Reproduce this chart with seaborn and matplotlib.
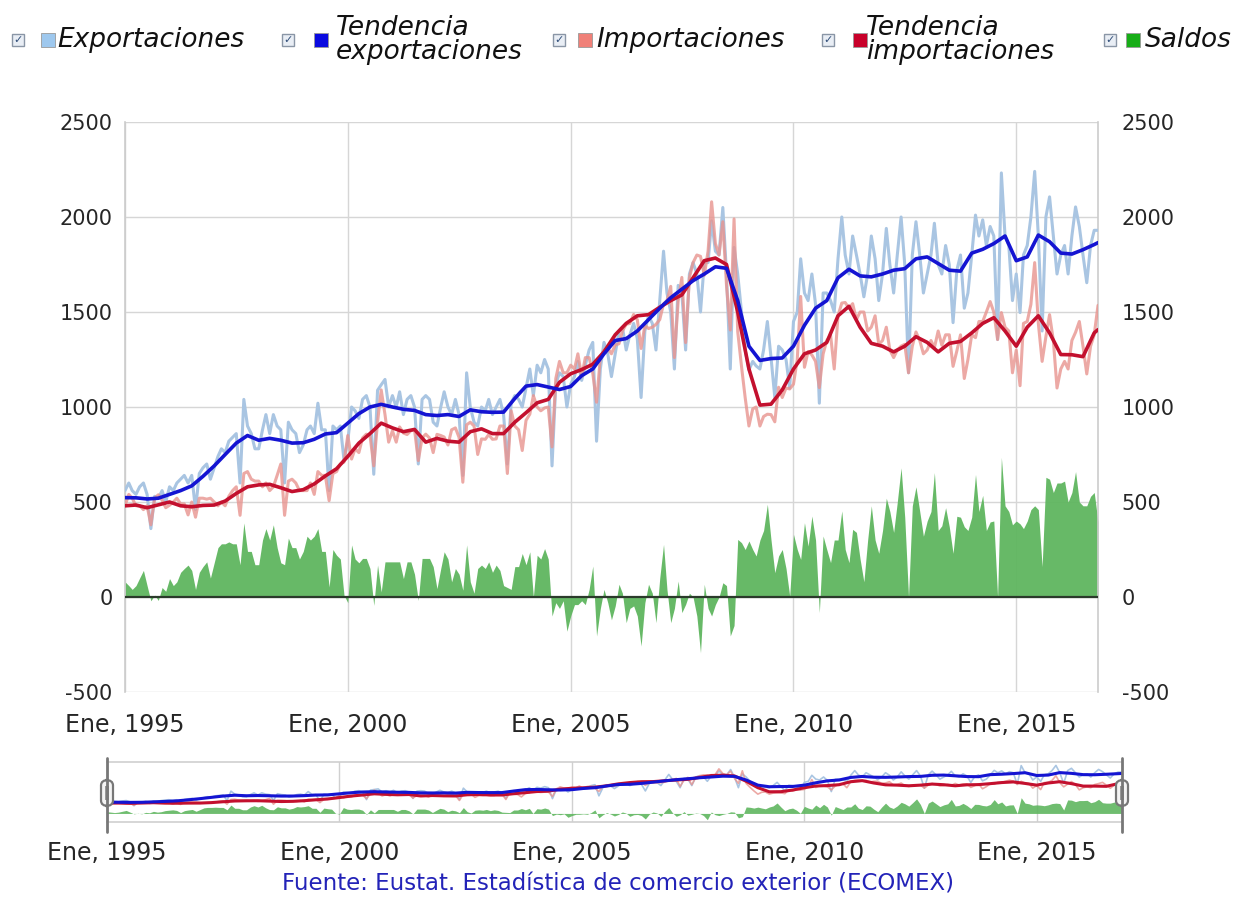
import matplotlib
matplotlib.use("Agg")

import matplotlib.pyplot as plt
from matplotlib.patches import Rectangle, FancyBboxPatch
from matplotlib.lines import Line2D
import pandas as pd
import seaborn as sns

# monthly values, Jan 1995 - Nov 2016 (one row per year)
exportaciones = [
    560, 600, 560, 540, 580, 600, 540, 360, 530, 520, 560, 500,
    580, 560, 600, 620, 640, 600, 640, 460, 650, 680, 700, 620,
    680, 740, 780, 760, 820, 840, 860, 600, 1040, 900, 860, 780,
    780, 880, 960, 860, 960, 900, 880, 600, 920, 880, 860, 760,
    800, 880, 900, 860, 1020, 880, 880, 560, 900, 880, 900, 720,
    820, 1000, 980, 940, 1040, 1060, 1000, 646, 1088, 1117, 1145, 1000,
    1060, 1000, 1080, 960, 1040, 1060, 1000, 700, 1040, 1060, 1040, 920,
    900, 1000, 1080, 1000, 960, 1040, 960, 640, 1180, 1000, 920, 900,
    1000, 980, 1040, 960, 1000, 1040, 960, 700, 1020, 1060, 1040, 1000,
    1100, 1200, 1060, 1220, 1180, 1250, 1200, 690, 1120, 1180, 1160, 1000,
    1120, 1160, 1240, 1140, 1220, 1300, 1340, 820, 1200, 1340, 1280, 1160,
    1280, 1400, 1420, 1300, 1380, 1440, 1360, 1050, 1400, 1480, 1440, 1300,
    1560, 1820, 1600, 1500, 1200, 1640, 1600, 1300, 1700, 1760, 1700, 1500,
    1760, 1760, 1980, 1820, 1800, 2050, 1700, 1200, 1840, 1700, 1500, 1300,
    1195, 1240, 1216, 1200, 1300, 1450, 1260, 1050, 1320, 1300, 1250, 1100,
    1450, 1500, 1780, 1600, 1560, 1700, 1540, 1020, 1600, 1600, 1560, 1500,
    1780, 2000, 1800, 1700, 1900, 1800, 1700, 1580, 1700, 1900, 1780, 1560,
    1700, 1940, 1750, 1600, 1800, 2000, 1750, 1180, 1800, 1975, 1800, 1600,
    1700, 1800, 1967, 1750, 1700, 1850, 1750, 1444, 1720, 1800, 1520, 1600,
    1800, 2010, 1900, 1985, 1850, 1950, 1900, 1355, 2232, 1900, 1850, 1560,
    1700, 1497, 1800, 1850, 2000, 2240, 1900, 1400, 2000, 2106, 1900, 1700,
    1800, 1850, 1700, 1900, 2053, 1950, 1800, 1654, 1850, 1930, 1930,
]

importaciones = [
    480, 540, 520, 480, 480, 460, 480, 380, 520, 538, 510, 470,
    483, 500, 520, 490, 490, 432, 500, 420, 520, 520, 515, 520,
    500, 480, 500, 480, 530, 560, 580, 430, 650, 660, 620, 610,
    610, 580, 600, 560, 580, 640, 700, 430, 610, 620, 600, 560,
    560, 560, 600, 540, 660, 640, 640, 507, 650, 660, 700, 710,
    850, 726, 780, 760, 837, 857, 850, 690, 920, 1090, 960, 815,
    875, 815, 895, 863, 855, 875, 880, 718, 837, 857, 837, 760,
    856, 850, 842, 800, 880, 890, 840, 604, 906, 920, 900, 750,
    832, 830, 855, 830, 832, 900, 900, 650, 980, 900, 880, 771,
    930, 962, 1060, 1000, 980, 995, 1000, 790, 1150, 1240, 1180, 1180,
    1220, 1200, 1280, 1160, 1260, 1260, 1177, 1025, 1260, 1300, 1310, 1280,
    1327, 1333, 1400, 1435, 1440, 1487, 1460, 1308, 1430, 1413, 1420, 1435,
    1460, 1543, 1560, 1635, 1260, 1556, 1682, 1339, 1680, 1760, 1800, 1793,
    1693, 1820, 2080, 1860, 1800, 1975, 1640, 1405, 1990, 1397, 1214, 1050,
    900, 990, 1000, 900, 950, 962, 960, 922, 1104, 1050, 1100, 1095,
    1120, 1250, 1582, 1209, 1292, 1274, 1240, 1102, 1279, 1350, 1379, 1200,
    1480, 1547, 1550, 1519, 1544, 1460, 1500, 1500, 1400, 1420, 1480, 1330,
    1350, 1420, 1300, 1260, 1300, 1320, 1330, 1180, 1320, 1395, 1350, 1280,
    1300, 1350, 1312, 1400, 1325, 1380, 1380, 1214, 1295, 1380, 1150, 1250,
    1380, 1365, 1450, 1450, 1500, 1555, 1500, 1355, 1497, 1420, 1400, 1180,
    1300, 1112, 1440, 1450, 1540, 1760, 1440, 1240, 1370, 1486, 1350, 1100,
    1200, 1240, 1200, 1350, 1393, 1450, 1320, 1174, 1320, 1380, 1535,
]

# trend values every three months (Jan, Apr, Jul, Oct) plus Nov 2016
tendencia_exp = [
    523, 522, 516, 520, 540, 560, 585, 635, 690, 750, 810, 850,
    825, 835, 825, 810, 812, 830, 858, 865,
    915, 965, 1000, 1014, 1000, 988, 982, 960, 955, 960, 950, 985,
    975, 972, 973, 1045, 1110, 1118, 1105, 1092,
    1108, 1165, 1200, 1280, 1350, 1360, 1400, 1460, 1520, 1575, 1620, 1665,
    1700, 1738, 1730, 1560, 1320, 1245, 1255, 1258,
    1320, 1430, 1520, 1560, 1680, 1725, 1690, 1685, 1700, 1720, 1728, 1780,
    1790, 1755, 1720, 1715, 1810, 1830, 1860, 1900,
    1770, 1790, 1905, 1870, 1810, 1805, 1828, 1855, 1865,
]

tendencia_imp = [
    480, 484, 470, 485, 500, 480, 475, 482, 484, 505, 545, 580,
    590, 593, 575, 555, 565, 595, 637, 675,
    740, 810, 860, 915, 890, 870, 882, 815, 835, 820, 815, 870,
    885, 860, 860, 920, 970, 1022, 1040, 1130,
    1175, 1197, 1225, 1290, 1380, 1440, 1480, 1486, 1525, 1560, 1590, 1680,
    1770, 1784, 1750, 1500, 1200, 1010, 1015, 1090,
    1200, 1280, 1300, 1340, 1480, 1530, 1420, 1335, 1320, 1290, 1320, 1370,
    1340, 1290, 1335, 1345, 1390, 1440, 1470, 1400,
    1320, 1420, 1480, 1390, 1276, 1275, 1265, 1390, 1407,
]

tick_years = [1995, 2000, 2005, 2010, 2015]
tick_labels = ["Ene, 1995", "Ene, 2000", "Ene, 2005", "Ene, 2010", "Ene, 2015"]
y_ticks = [-500, 0, 500, 1000, 1500, 2000, 2500]

legend_items = ["Exportaciones", "Tendencia\nexportaciones", "Importaciones",
                "Tendencia\nimportaciones", "Saldos"]
fuente = "Fuente: Eustat. Estadística de comercio exterior (ECOMEX)"

C_EXP = "#a9c5e2"
C_TEXP = "#1414d2"
C_IMP = "#e8948f"
C_TIMP = "#c3102e"
C_SAL = "#5fb65f"

W, H = 1237, 906

fechas = pd.date_range("1995-01-01", periods=len(exportaciones), freq="MS")
fechas_t = pd.date_range("1995-01-01", periods=len(tendencia_exp) - 1, freq="3MS")
fechas_t = fechas_t.append(pd.DatetimeIndex([fechas[-1]]))

df = pd.DataFrame({
    "fecha": fechas,
    "exp": exportaciones,
    "imp": importaciones,
})
df["saldo"] = df["exp"] - df["imp"]
dft = pd.DataFrame({"fecha": fechas_t, "texp": tendencia_exp, "timp": tendencia_imp})

sns.set_style("white")
plt.rcParams["font.family"] = ["DejaVu Sans"]

fig = plt.figure(figsize=(W / 100, H / 100), dpi=100)


def fx(x):
    return x / W


def fy(y):
    return 1 - y / H


tick_dates = [pd.Timestamp(f"{y}-01-01") for y in tick_years]

# main chart
ax = fig.add_axes([fx(125), fy(692), fx(1098) - fx(125), fy(122) - fy(692)])

ax.fill_between(df["fecha"], 0, df["saldo"], color=C_SAL, alpha=0.95,
                lw=0, zorder=2)
sns.lineplot(data=df, x="fecha", y="exp", ax=ax, color=C_EXP, lw=2.2, zorder=3)
sns.lineplot(data=df, x="fecha", y="imp", ax=ax, color=C_IMP, lw=2.2,
             alpha=0.8, zorder=3)
sns.lineplot(data=dft, x="fecha", y="timp", ax=ax, color=C_TIMP, lw=2.6, zorder=4)
sns.lineplot(data=dft, x="fecha", y="texp", ax=ax, color=C_TEXP, lw=2.6, zorder=5)
ax.axhline(0, color="#2b3a2b", lw=1.6, zorder=6)

ax.set_xlim(fechas[0], fechas[-1])
ax.set_ylim(-500, 2500)
ax.set_xticks(tick_dates)
ax.set_xticklabels(tick_labels, fontsize=17)
ax.set_yticks(y_ticks)
ax.set_yticklabels([str(v) for v in y_ticks], fontsize=15)
ax.tick_params(axis="x", length=0, pad=15)
ax.tick_params(axis="y", length=0, pad=9)
ax.grid(True, color="#d6d6d6", lw=1)
ax.set_axisbelow(True)
ax.set_xlabel("")
ax.set_ylabel("")
for s in ["top", "bottom"]:
    ax.spines[s].set_visible(False)
for s in ["left", "right"]:
    ax.spines[s].set_color("#cccccc")
    ax.spines[s].set_linewidth(1.2)

# right hand labels
ax_r = ax.twinx()
ax_r.set_ylim(-500, 2500)
ax_r.set_yticks(y_ticks)
ax_r.set_yticklabels([str(v) for v in y_ticks], fontsize=15)
ax_r.tick_params(axis="y", length=0, pad=17)
for s in ax_r.spines.values():
    s.set_visible(False)

# navigator
nav = fig.add_axes([fx(107), fy(822), fx(1122) - fx(107), fy(762) - fy(822)])
nav.fill_between(df["fecha"], 0, df["saldo"], color=C_SAL, alpha=0.9, lw=0)
sns.lineplot(data=df, x="fecha", y="exp", ax=nav, color=C_EXP, lw=1.2)
sns.lineplot(data=df, x="fecha", y="imp", ax=nav, color=C_IMP, lw=1.2, alpha=0.8)
sns.lineplot(data=dft, x="fecha", y="timp", ax=nav, color=C_TIMP, lw=2.2)
sns.lineplot(data=dft, x="fecha", y="texp", ax=nav, color=C_TEXP, lw=2.2)
nav.set_xlim(fechas[0], fechas[-1])
nav.set_ylim(-400, 2400)
nav.set_yticks([])
nav.set_xticks(tick_dates)
nav.set_xticklabels(tick_labels, fontsize=17)
nav.tick_params(axis="x", length=0, pad=14)
nav.grid(True, axis="x", color="#d0d0d0", lw=1)
nav.set_xlabel("")
nav.set_ylabel("")
for s in ["left", "right"]:
    nav.spines[s].set_visible(False)
for s in ["top", "bottom"]:
    nav.spines[s].set_color("#cfcfcf")
    nav.spines[s].set_linewidth(1.2)

for hx in (107, 1122):
    fig.add_artist(Line2D([fx(hx), fx(hx)], [fy(758), fy(832)],
                          color="#777777", lw=2, transform=fig.transFigure))
    fig.add_artist(FancyBboxPatch((fx(hx - 6), fy(806)), fx(12), fy(780) - fy(806),
                                  boxstyle="round,pad=0,rounding_size=0.006",
                                  transform=fig.transFigure, facecolor="#f4f4f4",
                                  edgecolor="#777777", lw=1.6))
    fig.add_artist(Rectangle((fx(hx - 2), fy(800)), fx(4), fy(786) - fy(800),
                             transform=fig.transFigure, facecolor="#999999",
                             edgecolor="none"))

# legend
cb_x = [18, 288, 559, 828, 1110]
sq_x = [48, 321, 585, 860, 1133]
tx_x = [57, 336, 596, 866, 1145]
sq_col = ["#9ec8ee", "#0a0ae0", "#f08078", "#c8002a", "#17ad17"]
ly = 40
for cx, sx, tx, col, lab in zip(cb_x, sq_x, tx_x, sq_col, legend_items):
    fig.add_artist(Rectangle((fx(cx - 6), fy(ly + 6)), fx(12), fy(ly - 6) - fy(ly + 6),
                             transform=fig.transFigure, facecolor="#e9eef5",
                             edgecolor="#8a96a6", lw=1))
    fig.text(fx(cx), fy(ly), "\u2713", fontsize=8, color="#33507a",
             ha="center", va="center")
    fig.add_artist(Rectangle((fx(sx - 7), fy(ly + 7)), fx(14), fy(ly - 7) - fy(ly + 7),
                             transform=fig.transFigure, facecolor=col,
                             edgecolor="#999999", lw=0.6))
    fig.text(fx(tx), fy(ly), lab, fontsize=19, style="italic", color="#111111",
             ha="left", va="center", linespacing=0.92)

fig.text(fx(618), fy(884), fuente, fontsize=16.5, color="#2323b8",
         ha="center", va="center")

fig.savefig("out.png", dpi=100)
